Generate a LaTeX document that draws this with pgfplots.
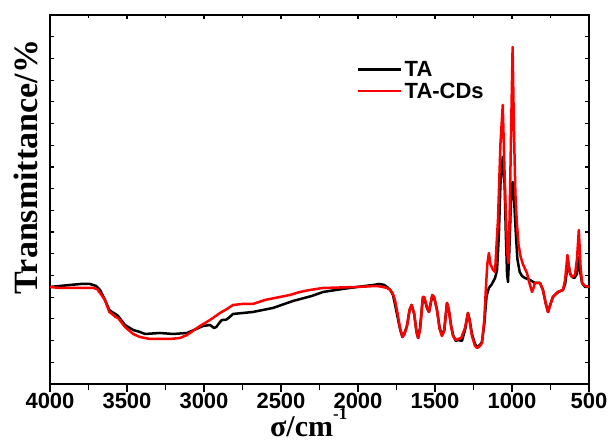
\documentclass[border=0pt]{standalone}
\usepackage{pgfplots}
\pgfplotsset{compat=1.18}
\usepackage{fontspec}
\setmainfont{Liberation Sans}
\newfontfamily\tnr{Liberation Serif}
\pgfplotstableread{
x y
4000 97
3935 98
3870 99
3800 100
3740 100
3700 98
3675 94
3643 84
3615 74
3597 72
3575 70
3558 68
3513 59
3460 54
3416 52
3383 50
3286 51
3201 50
3110 51
3050 55
3006 58
2961 59
2935 56
2920 57
2896 62
2883 64
2860 64
2840 66
2812 70
2682 72
2552 76
2422 83
2300 88
2227 92
2100 95
2006 97
1900 99
1860 100
1830 99
1812 97
1790 94
1773 89
1760 80
1747 70
1727 55
1712 47
1700 50
1682 58
1665 74
1652 79
1635 70
1620 52
1610 46
1597 56
1580 84
1570 86
1552 76
1539 72
1518 88
1505 86
1487 74
1470 56
1455 49
1440 54
1422 81
1410 74
1395 58
1383 49
1365 43
1351 44
1325 43
1305 54
1286 71
1275 64
1260 50
1240 40
1227 37
1208 39
1195 42
1180 60
1165 88
1150 96
1130 100
1110 106
1097 114
1085 150
1075 200
1060 227
1048 200
1040 150
1032 110
1026 102
1018 130
1005 190
996 202
985 180
975 150
965 125
950 112
935 108
916 106
883 104
851 101
818 101
799 94
780 80
766 72
750 80
734 87
701 92
669 94
655 100
636 121
622 110
610 107
595 106
578 110
565 127
555 110
545 101
525 97
500 97
}\tadata
\pgfplotstableread{
x y
4000 97
3935 96
3800 96
3720 96
3695 95
3670 90
3643 84
3615 72
3597 70
3575 67
3558 66
3513 57
3460 50
3416 47
3351 45
3221 45
3156 46
3110 49
3026 58
2961 64
2896 71
2851 75
2812 79
2750 80
2682 80
2604 84
2442 89
2377 92
2312 94
2227 96
2006 97
1877 98
1840 97
1812 96
1790 94
1773 90
1760 84
1745 72
1727 56
1710 47
1698 50
1682 58
1665 74
1652 79
1635 70
1620 52
1608 46
1595 56
1580 87
1570 87
1552 77
1539 72
1518 89
1505 87
1487 74
1470 55
1455 48
1440 53
1422 81
1410 74
1395 57
1383 48
1365 44
1351 45
1330 46
1305 56
1286 71
1275 63
1260 48
1240 38
1227 36
1208 38
1195 41
1180 64
1168 100
1160 120
1150 131
1140 120
1123 114
1110 112
1100 140
1091 164
1075 240
1060 279
1048 210
1040 170
1030 130
1023 121
1015 170
1005 260
996 337
988 260
978 190
968 160
958 140
945 128
930 120
903 111
885 100
870 92
860 96
851 101
818 101
799 94
780 80
766 72
750 80
734 87
701 92
669 94
655 104
640 129
625 112
610 107
591 109
578 125
566 154
555 118
545 101
525 98
500 97
}\tacddata
\begin{document}
\begin{tikzpicture}
\path[use as bounding box] (-50pt,-60pt) rectangle (561pt,384pt);
\begin{axis}[
  scale only axis, width=539pt, height=369pt,
  xmin=500, xmax=4000, x dir=reverse,
  ymin=0, ymax=368.9,
  axis line style={line width=1.8pt},
  tick align=inside, major tick length=4pt,
  tick style={line width=1.2pt, black},
  xtick={500,1000,...,4000}, minor xtick={750,1250,...,3750},
  xtick pos=top, xticklabels={},
  ytick={0,21.7,...,369}, yticklabels={}, ytick pos=both,
  ylabel={Transmittance/\%},
  ylabel style={font=\tnr\bfseries\fontsize{34}{34}\selectfont, at={(axis description cs:-0.0445,0.588)}, anchor=center},
  xlabel={σ/cm\raisebox{0.55em}{\fontsize{17}{17}\selectfont -1}},
  xlabel style={font=\tnr\bfseries\fontsize{30}{30}\selectfont, at={(axis description cs:0.48,-0.142)}, anchor=base},
  legend style={draw=none, fill=none, at={(axis description cs:0.5696,0.881)}, anchor=north west,
    font=\bfseries\fontsize{22}{24}\selectfont, row sep=1pt, inner sep=0pt, nodes={inner sep=2pt}},
  legend cell align=left,
  legend image code/.code={\draw[#1, line width=2.5pt] (0pt,0pt) -- (43pt,0pt);},
]
\addplot[black, line width=2.5pt, line join=round] table[x=x,y=y]{\tadata};
\addlegendentry{TA}
\addplot[red, line width=2.5pt, line join=round] table[x=x,y=y]{\tacddata};
\addlegendentry{TA-CDs}
\end{axis}
\begin{axis}[
  scale only axis, width=539pt, height=369pt,
  xmin=500, xmax=4000, x dir=reverse,
  ymin=0, ymax=368.9,
  hide y axis, axis x line*=bottom,
  axis line style={line width=1.8pt, -},
  tick align=outside, major tick length=8pt, minor tick length=6pt,
  tick style={line width=1.2pt, black},
  xtick={500,1000,...,4000}, minor xtick={750,1250,...,3750},
  xticklabels={500,1000,1500,2000,2500,3000,3500,4000},
  xticklabel style={font=\bfseries\fontsize{22}{22}\selectfont, yshift=2pt},
]
\end{axis}
\end{tikzpicture}
\end{document}
